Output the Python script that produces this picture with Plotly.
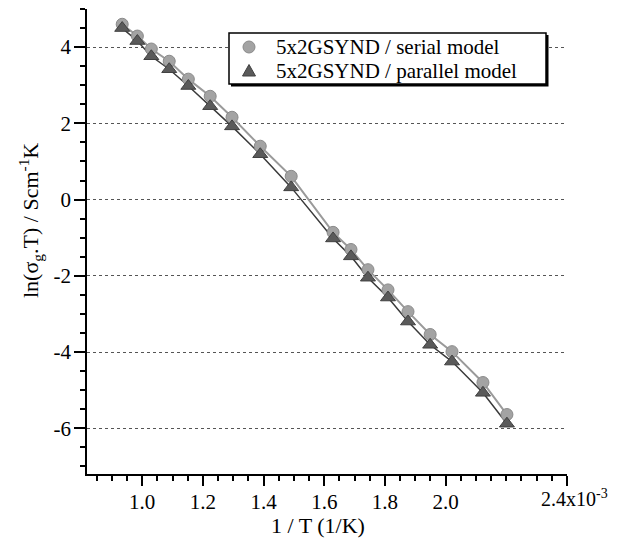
import numpy as np
import plotly.graph_objects as go

# 1/T values (units of 1e-3 1/K)
inv_T = [0.934, 0.984, 1.030, 1.089, 1.152, 1.224, 1.296, 1.389, 1.491,
         1.629, 1.688, 1.744, 1.810, 1.876, 1.949, 2.021, 2.123, 2.202]
serial_ln = [4.60, 4.29, 3.95, 3.63, 3.16, 2.71, 2.16, 1.40, 0.61,
             -0.86, -1.31, -1.84, -2.37, -2.94, -3.54, -3.99, -4.80, -5.64]
parallel_ln = [4.50, 4.16, 3.76, 3.42, 2.98, 2.45, 1.92, 1.19, 0.32,
               -1.02, -1.49, -2.05, -2.57, -3.20, -3.81, -4.25, -5.07, -5.88]

series_names = ["5x2GSYND / serial model", "5x2GSYND / parallel model"]
x_tickvals = [1.0, 1.2, 1.4, 1.6, 1.8, 2.0, 2.2, 2.4]
x_ticktext = ["1.0", "1.2", "1.4", "1.6", "1.8", "2.0", "", ""]
x_last_label = "2.4x10<sup>-3</sup>"
y_tickvals = [-6, -4, -2, 0, 2, 4]
y_ticktext = ["-6", "-4", "-2", "0", "2", "4"]

FONT = "Liberation Serif"
FS = 21
SERIAL_COL = "#a3a3a3"
SERIAL_EDGE = "#8a8a8a"
PAR_COL = "#5a5a5a"
PAR_EDGE = "#404040"

fig = go.Figure()
fig.add_trace(go.Scatter(x=inv_T, y=serial_ln, mode="lines", showlegend=False,
                         hoverinfo="skip", line=dict(color="#9a9a9a", width=2)))
fig.add_trace(go.Scatter(x=inv_T, y=parallel_ln, mode="lines", showlegend=False,
                         hoverinfo="skip", line=dict(color="#3a3a3a", width=1.5)))
fig.add_trace(go.Scatter(
    x=inv_T, y=serial_ln, mode="markers", name=series_names[0], showlegend=False,
    marker=dict(symbol="circle", size=12, color=SERIAL_COL,
                line=dict(color=SERIAL_EDGE, width=1)),
))
fig.add_trace(go.Scatter(
    x=inv_T, y=parallel_ln, mode="markers", name=series_names[1], showlegend=False,
    marker=dict(symbol="triangle-up", size=13, color=PAR_COL,
                line=dict(color=PAR_EDGE, width=1)),
))

# page has an 8px body margin, so compensate
OFF = 8
L, T = 87 - OFF, 9 - OFF
W, H = 609, 539
pw, ph = 480, 465
R = W - L - pw
B = H - T - ph
bottom_y = T + ph


def px(xs):
    return (xs - OFF - L) / pw


def py(ys):
    return (bottom_y - (ys - OFF)) / ph


# legend box (drawn manually for compact rows)
shapes = [
    dict(type="rect", xref="paper", yref="paper", layer="above",
         x0=px(231), x1=px(548.5), y0=py(86.5), y1=py(35),
         fillcolor="black", line=dict(width=0)),
    dict(type="rect", xref="paper", yref="paper", layer="above",
         x0=px(229), x1=px(546), y0=py(84), y1=py(33),
         fillcolor="white", line=dict(color="black", width=1.5)),
    dict(type="circle", xref="paper", yref="paper", layer="above",
         x0=px(243), x1=px(255), y0=py(53), y1=py(41),
         fillcolor=SERIAL_COL, line=dict(color=SERIAL_EDGE, width=1)),
    dict(type="path", xref="paper", yref="paper", layer="above",
         path=f"M {px(242.5)},{py(76)} L {px(255.5)},{py(76)} L {px(249)},{py(64.5)} Z",
         fillcolor=PAR_COL, line=dict(color=PAR_EDGE, width=1)),
]

annotations = [
    dict(text=series_names[0], xref="paper", yref="paper", x=px(274), y=py(47),
         xanchor="left", yanchor="middle", showarrow=False,
         font=dict(family=FONT, size=FS, color="black")),
    dict(text=series_names[1], xref="paper", yref="paper", x=px(274), y=py(71),
         xanchor="left", yanchor="middle", showarrow=False,
         font=dict(family=FONT, size=FS, color="black")),
    dict(text=x_last_label, xref="x", yref="paper", x=x_tickvals[-1], y=py(498),
         xanchor="center", yanchor="middle", xshift=7, showarrow=False,
         font=dict(family=FONT, size=20, color="black")),
    dict(text="ln(σ<sub>g</sub>.T) / Scm<sup>-1</sup>K", textangle=-90,
         xref="paper", yref="paper", x=px(30), y=py(221),
         xanchor="center", yanchor="middle", showarrow=False,
         font=dict(family=FONT, size=22, color="black")),
    dict(text="1 / T (1/K)",
         xref="paper", yref="paper", x=px(318), y=py(525),
         xanchor="center", yanchor="middle", showarrow=False,
         font=dict(family=FONT, size=22, color="black")),
]

fig.update_layout(
    width=W, height=H,
    margin=dict(l=L, r=R, t=T, b=B, pad=0),
    paper_bgcolor="white", plot_bgcolor="white",
    font=dict(family=FONT, size=FS, color="black"),
    showlegend=False,
    xaxis=dict(
        range=[0.818, 2.4], showline=True, linecolor="black", linewidth=1.5,
        ticks="outside", ticklen=10, tickwidth=1.5, tickcolor="black",
        tickmode="array", tickvals=x_tickvals, ticktext=x_ticktext,
        tickfont=dict(family=FONT, size=FS, color="black"),
        ticklabelstandoff=-2,
        showgrid=False, zeroline=False,
        minor=dict(tickmode="array",
                   tickvals=[round(v, 2) for v in np.arange(0.85, 2.4, 0.05)],
                   ticks="outside", ticklen=5, tickwidth=1.5, tickcolor="black",
                   showgrid=False),
    ),
    yaxis=dict(
        range=[-7.2, 5.0], showline=True, linecolor="black", linewidth=1.5,
        ticks="outside", ticklen=11, tickwidth=1.5, tickcolor="black",
        tickmode="array", tickvals=y_tickvals, ticktext=y_ticktext,
        tickfont=dict(family=FONT, size=FS, color="black"),
        ticklabelstandoff=-1,
        showgrid=True, gridcolor="#555555", gridwidth=1, griddash="dot",
        zeroline=False,
        minor=dict(tickmode="array",
                   tickvals=[round(v, 2) for v in np.arange(-7.0, 5.01, 0.5)],
                   ticks="outside", ticklen=5, tickwidth=1.5, tickcolor="black",
                   showgrid=False),
    ),
    shapes=shapes,
    annotations=annotations,
)

fig.write_html("out.html")
